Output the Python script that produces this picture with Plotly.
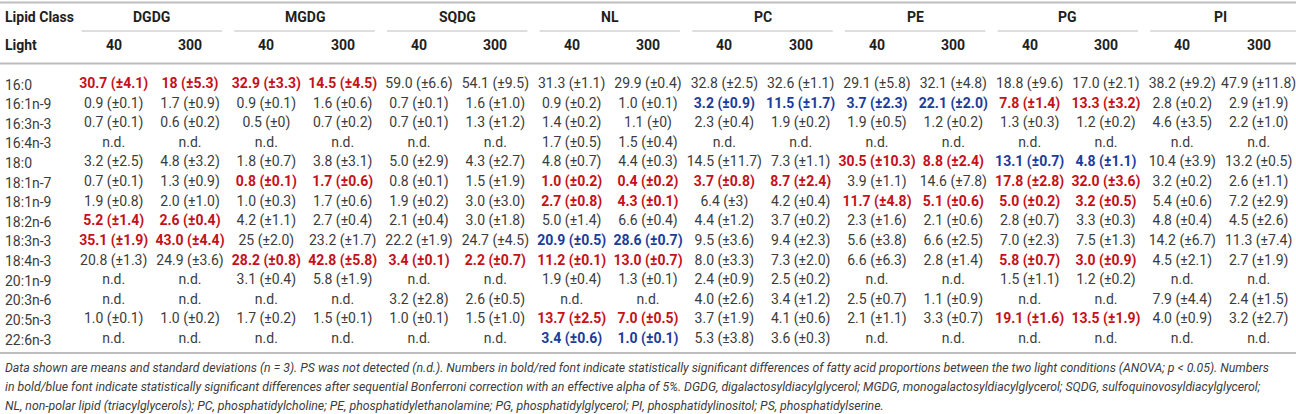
import plotly.graph_objects as go

fatty_acids = ["16:0", "16:1n-9", "16:3n-3", "16:4n-3", "18:0", "18:1n-7", "18:1n-9",
               "18:2n-6", "18:3n-3", "18:4n-3", "20:1n-9", "20:3n-6", "20:5n-3", "22:6n-3"]
lipid_classes = ["DGDG", "MGDG", "SQDG", "NL", "PC", "PE", "PG", "PI"]
light_levels = ["40", "300"]

# cell text per column (mean (±sd)), and significance: "r" = ANOVA p<0.05, "b" = after Bonferroni
dgdg_40 = ["30.7 (±4.1)", "0.9 (±0.1)", "0.7 (±0.1)", "n.d.", "3.2 (±2.5)", "0.7 (±0.1)", "1.9 (±0.8)",
           "5.2 (±1.4)", "35.1 (±1.9)", "20.8 (±1.3)", "n.d.", "n.d.", "1.0 (±0.1)", "n.d."]
dgdg_300 = ["18 (±5.3)", "1.7 (±0.9)", "0.6 (±0.2)", "n.d.", "4.8 (±3.2)", "1.3 (±0.9)", "2.0 (±1.0)",
            "2.6 (±0.4)", "43.0 (±4.4)", "24.9 (±3.6)", "n.d.", "n.d.", "1.0 (±0.2)", "n.d."]
mgdg_40 = ["32.9 (±3.3)", "0.9 (±0.1)", "0.5 (±0)", "n.d.", "1.8 (±0.7)", "0.8 (±0.1)", "1.0 (±0.3)",
           "4.2 (±1.1)", "25 (±2.0)", "28.2 (±0.8)", "3.1 (±0.4)", "n.d.", "1.7 (±0.2)", "n.d."]
mgdg_300 = ["14.5 (±4.5)", "1.6 (±0.6)", "0.7 (±0.2)", "n.d.", "3.8 (±3.1)", "1.7 (±0.6)", "1.7 (±0.6)",
            "2.7 (±0.4)", "23.2 (±1.7)", "42.8 (±5.8)", "5.8 (±1.9)", "n.d.", "1.5 (±0.1)", "n.d."]
sqdg_40 = ["59.0 (±6.6)", "0.7 (±0.1)", "0.7 (±0.1)", "n.d.", "5.0 (±2.9)", "0.8 (±0.1)", "1.9 (±0.2)",
           "2.1 (±0.4)", "22.2 (±1.9)", "3.4 (±0.1)", "n.d.", "3.2 (±2.8)", "1.0 (±0.1)", "n.d."]
sqdg_300 = ["54.1 (±9.5)", "1.6 (±1.0)", "1.3 (±1.2)", "n.d.", "4.3 (±2.7)", "1.5 (±1.9)", "3.0 (±3.0)",
            "3.0 (±1.8)", "24.7 (±4.5)", "2.2 (±0.7)", "n.d.", "2.6 (±0.5)", "1.5 (±1.0)", "n.d."]
nl_40 = ["31.3 (±1.1)", "0.9 (±0.2)", "1.4 (±0.2)", "1.7 (±0.5)", "4.8 (±0.7)", "1.0 (±0.2)", "2.7 (±0.8)",
         "5.0 (±1.4)", "20.9 (±0.5)", "11.2 (±0.1)", "1.9 (±0.4)", "n.d.", "13.7 (±2.5)", "3.4 (±0.6)"]
nl_300 = ["29.9 (±0.4)", "1.0 (±0.1)", "1.1 (±0)", "1.5 (±0.4)", "4.4 (±0.3)", "0.4 (±0.2)", "4.3 (±0.1)",
          "6.6 (±0.4)", "28.6 (±0.7)", "13.0 (±0.7)", "1.3 (±0.1)", "n.d.", "7.0 (±0.5)", "1.0 (±0.1)"]
pc_40 = ["32.8 (±2.5)", "3.2 (±0.9)", "2.3 (±0.4)", "n.d.", "14.5 (±11.7)", "3.7 (±0.8)", "6.4 (±3)",
         "4.4 (±1.2)", "9.5 (±3.6)", "8.0 (±3.3)", "2.4 (±0.9)", "4.0 (±2.6)", "3.7 (±1.9)", "5.3 (±3.8)"]
pc_300 = ["32.6 (±1.1)", "11.5 (±1.7)", "1.9 (±0.2)", "n.d.", "7.3 (±1.1)", "8.7 (±2.4)", "4.2 (±0.4)",
          "3.7 (±0.2)", "9.4 (±2.3)", "7.3 (±2.0)", "2.5 (±0.2)", "3.4 (±1.2)", "4.1 (±0.6)", "3.6 (±0.3)"]
pe_40 = ["29.1 (±5.8)", "3.7 (±2.3)", "1.9 (±0.5)", "n.d.", "30.5 (±10.3)", "3.9 (±1.1)", "11.7 (±4.8)",
         "2.3 (±1.6)", "5.6 (±3.8)", "6.6 (±6.3)", "n.d.", "2.5 (±0.7)", "2.1 (±1.1)", "n.d."]
pe_300 = ["32.1 (±4.8)", "22.1 (±2.0)", "1.2 (±0.2)", "n.d.", "8.8 (±2.4)", "14.6 (±7.8)", "5.1 (±0.6)",
          "2.1 (±0.6)", "6.6 (±2.5)", "2.8 (±1.4)", "n.d.", "1.1 (±0.9)", "3.3 (±0.7)", "n.d."]
pg_40 = ["18.8 (±9.6)", "7.8 (±1.4)", "1.3 (±0.3)", "n.d.", "13.1 (±0.7)", "17.8 (±2.8)", "5.0 (±0.2)",
         "2.8 (±0.7)", "7.0 (±2.3)", "5.8 (±0.7)", "1.5 (±1.1)", "n.d.", "19.1 (±1.6)", "n.d."]
pg_300 = ["17.0 (±2.1)", "13.3 (±3.2)", "1.2 (±0.2)", "n.d.", "4.8 (±1.1)", "32.0 (±3.6)", "3.2 (±0.5)",
          "3.3 (±0.3)", "7.5 (±1.3)", "3.0 (±0.9)", "1.2 (±0.2)", "n.d.", "13.5 (±1.9)", "n.d."]
pi_40 = ["38.2 (±9.2)", "2.8 (±0.2)", "4.6 (±3.5)", "n.d.", "10.4 (±3.9)", "3.2 (±0.2)", "5.4 (±0.6)",
         "4.8 (±0.4)", "14.2 (±6.7)", "4.5 (±2.1)", "n.d.", "7.9 (±4.4)", "4.0 (±0.9)", "n.d."]
pi_300 = ["47.9 (±11.8)", "2.9 (±1.9)", "2.2 (±1.0)", "n.d.", "13.2 (±0.5)", "2.6 (±1.1)", "7.2 (±2.9)",
          "4.5 (±2.6)", "11.3 (±7.4)", "2.7 (±1.9)", "n.d.", "2.4 (±1.5)", "3.2 (±2.7)", "n.d."]

sig_dgdg = ["r", "", "", "", "", "", "", "r", "r", "", "", "", "", ""]
sig_mgdg = ["r", "", "", "", "", "r", "", "", "", "r", "", "", "", ""]
sig_sqdg = ["", "", "", "", "", "", "", "", "", "r", "", "", "", ""]
sig_nl = ["", "", "", "", "", "r", "r", "", "b", "r", "", "", "r", "b"]
sig_pc = ["", "b", "", "", "", "r", "", "", "", "", "", "", "", ""]
sig_pe = ["", "b", "", "", "r", "", "r", "", "", "", "", "", "", ""]
sig_pg = ["", "r", "", "", "b", "r", "r", "", "", "r", "", "", "r", ""]
sig_pi = ["", "", "", "", "", "", "", "", "", "", "", "", "", ""]

columns = [(dgdg_40, dgdg_300, sig_dgdg), (mgdg_40, mgdg_300, sig_mgdg), (sqdg_40, sqdg_300, sig_sqdg),
           (nl_40, nl_300, sig_nl), (pc_40, pc_300, sig_pc), (pe_40, pe_300, sig_pe),
           (pg_40, pg_300, sig_pg), (pi_40, pi_300, sig_pi)]

footnote_lines = [
    "Data shown are means and standard deviations (n = 3). PS was not detected (n.d.). Numbers in bold/red font "
    "indicate statistically significant differences of fatty acid proportions between the two light conditions "
    "(ANOVA; p &lt; 0.05). Numbers",
    "in bold/blue font indicate statistically significant differences after sequential Bonferroni correction with "
    "an effective alpha of 5%. DGDG, digalactosyldiacylglycerol; MGDG, monogalactosyldiacylglycerol; SQDG, "
    "sulfoquinovosyldiacylglycerol;",
    "NL, non-polar lipid (triacylglycerols); PC, phosphatidylcholine; PE, phosphatidylethanolamine; PG, "
    "phosphatidylglycerol; PI, phosphatidylinositol; PS, phosphatidylserine.",
]

FONT = "Roboto, Liberation Sans, Arial"
SIZE = 14
GREY = "#3c3c3c"
DARK = "#1e1e1e"
SIG_COLORS = {"r": "#c4111b", "b": "#1c3c9a", "": GREY}
RULE = "#bdbdbd"
H = 414
ROW0, ROWSTEP = 84.5, 19.62
COL0, COLSTEP = 113.7, 76.33


def py(p):
    # pixel row from the top -> paper y
    return 1 - p / H


fig = go.Figure()

col_names = []
for lc in lipid_classes:
    for lv in light_levels:
        col_names.append(lc + " " + lv)

for g, (v40, v300, sig) in enumerate(columns):
    for k, vals in enumerate([v40, v300]):
        name = col_names[2 * g + k]
        text = [("<b>" + v + "</b>") if s else v for v, s in zip(vals, sig)]
        fig.add_trace(go.Scatter(
            x=[name] * len(fatty_acids), y=fatty_acids, mode="text", text=text,
            textposition="middle center",
            textfont=dict(family=FONT, size=SIZE, color=[SIG_COLORS[s] for s in sig]),
            hoverinfo="skip", showlegend=False,
        ))

annotations = []
for fa in fatty_acids:
    annotations.append(dict(x=0.002, xref="paper", y=fa, yref="y", text=fa, showarrow=False,
                            xanchor="left", yanchor="middle", font=dict(family=FONT, size=SIZE, color=GREY)))

hdr = dict(family=FONT, size=SIZE, color=DARK)
annotations.append(dict(x=0.002, xref="paper", y=py(17), yref="paper", text="<b>Lipid Class</b>",
                        showarrow=False, xanchor="left", yanchor="middle", font=hdr))
annotations.append(dict(x=0.002, xref="paper", y=py(45), yref="paper", text="<b>Light</b>",
                        showarrow=False, xanchor="left", yanchor="middle", font=hdr))

shapes = []
for g, lc in enumerate(lipid_classes):
    annotations.append(dict(x=2 * g + 0.5, xref="x", y=py(17), yref="paper", text="<b>" + lc + "</b>",
                            showarrow=False, xanchor="center", yanchor="middle", font=hdr))
    x1 = 2 * g + 1 + 0.42 if g < len(lipid_classes) - 1 else 15.5
    shapes.append(dict(type="line", xref="x", yref="paper", x0=2 * g - 0.42, x1=x1,
                       y0=py(31), y1=py(31), line=dict(color=RULE, width=1.2)))
    for k, lv in enumerate(light_levels):
        annotations.append(dict(x=col_names[2 * g + k], xref="x", y=py(45), yref="paper",
                                text="<b>" + lv + "</b>", showarrow=False,
                                xanchor="center", yanchor="middle", font=hdr))

for p in [2.5, 63.5, 353]:
    shapes.append(dict(type="line", xref="paper", yref="paper", x0=0, x1=1, y0=py(p), y1=py(p),
                       line=dict(color=RULE, width=2)))

for i, line in enumerate(footnote_lines):
    annotations.append(dict(x=0.002, xref="paper", y=py(368 + 19 * i), yref="paper", yanchor="middle",
                            xanchor="left", align="left", showarrow=False, text="<i>" + line + "</i>",
                            font=dict(family=FONT, size=12.3, color=GREY)))

# column i centre at COL0 + COLSTEP*i px, row j centre at ROW0 + ROWSTEP*j px
fig.update_xaxes(type="category", categoryorder="array", categoryarray=col_names,
                 range=[-COL0 / COLSTEP, (1296 - COL0) / COLSTEP], visible=False, fixedrange=True)
fig.update_yaxes(type="category", categoryorder="array", categoryarray=fatty_acids,
                 range=[(H - ROW0) / ROWSTEP, -ROW0 / ROWSTEP], visible=False, fixedrange=True)
fig.update_layout(width=1296, height=H, margin=dict(l=0, r=0, t=0, b=0),
                  plot_bgcolor="white", paper_bgcolor="white",
                  annotations=annotations, shapes=shapes)

fig.write_html("out.html", config={"displayModeBar": False},
               post_script="document.body.style.margin='0';document.body.style.overflow='hidden';")
